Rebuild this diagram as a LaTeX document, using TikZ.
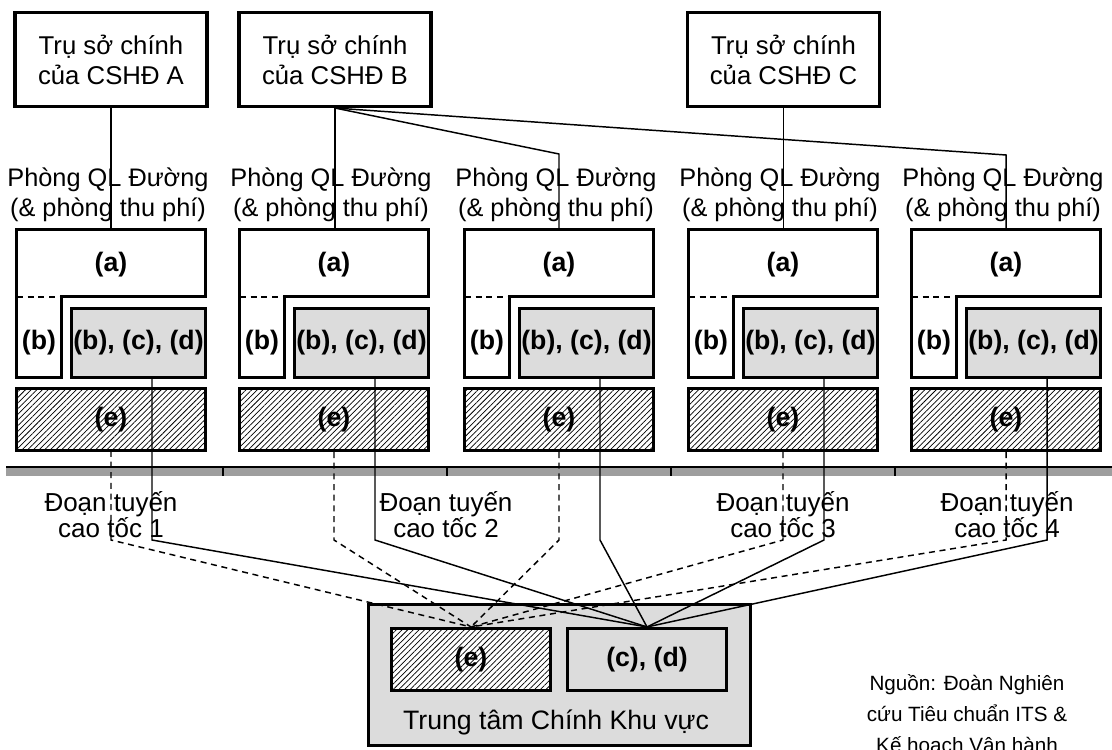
\documentclass[tikz,border=0pt]{standalone}
\usepackage{fontspec}
\setmainfont{Liberation Sans}
\usetikzlibrary{patterns.meta}
\definecolor{lgray}{RGB}{220,220,220}
\definecolor{bargray}{RGB}{158,158,158}
\begin{document}
\begin{tikzpicture}[x=0.75pt,y=-0.75pt,
  font=\fontsize{19.3}{22.5}\selectfont,
  thickborder/.style={draw=black,line width=2.3pt},
  boldlbl/.style={font=\fontsize{20}{22}\selectfont\bfseries},
  hqbox/.style={thickborder,fill=white,minimum width=144pt,minimum height=70.5pt,inner sep=0pt,align=center},
  graybox/.style={thickborder,fill=lgray,minimum width=100.5pt,minimum height=51.75pt,inner sep=0pt,boldlbl},
  hatchbox/.style={thickborder,preaction={fill=white},pattern={Lines[angle=45,distance=3pt,line width=0.55pt]},minimum width=141.75pt,minimum height=46.5pt,inner sep=0pt,boldlbl},
  officelbl/.style={font=\fontsize{19}{22.5}\selectfont,align=center,inner sep=0pt},
  roadlbl/.style={font=\fontsize{19.5}{19.5}\selectfont,align=center,inner sep=0pt},
  conn/.style={line width=1.1pt},
  dconn/.style={conn,dash pattern=on 4.5pt off 3.5pt},
]
\useasboundingbox (0,0) rectangle (1112,749);

% head offices
\node[hqbox] (hqA) at (111,59.5) {Trụ sở chính\\của CSHĐ A};
\node[hqbox] (hqB) at (335,59.5) {Trụ sở chính\\của CSHĐ B};
\node[hqbox] (hqC) at (783.5,59.5) {Trụ sở chính\\của CSHĐ C};

% highway bar
\fill[bargray] (6,468) rectangle (1112,476);
\draw[line width=1.3pt] (6,467) -- (1112,467);
\foreach \t in {223,447,671,895} \draw[line width=0.9pt] (\t,467) -- (\t,476);

% road segment labels
\node[roadlbl] (r1) at (111,515) {Đoạn tuyến\\cao tốc 1};
\node[roadlbl] (r2) at (446,515) {Đoạn tuyến\\cao tốc 2};
\node[roadlbl] (r3) at (783,515) {Đoạn tuyến\\cao tốc 3};
\node[roadlbl] (r4) at (1007,515) {Đoạn tuyến\\cao tốc 4};

% offices
\foreach \i/\L in {1/15,2/238,3/463,4/687,5/910}{
  \node[officelbl] (lbl\i) at (\L+93,195) {Phòng QL Đường\\(\& phòng thu phí)};
  \draw[thickborder,fill=white,line join=miter] (\L+1.5,229.5) -- (\L+190.5,229.5) -- (\L+190.5,296.5) -- (\L+46.5,296.5) -- (\L+46.5,377.5) -- (\L+1.5,377.5) -- cycle;
  \draw[line width=1pt,dash pattern=on 4.5pt off 3.5pt] (\L+2,297) -- (\L+46,297);
  \node[boldlbl] (a\i) at (\L+96,265) {(a)};
  \node[boldlbl] (b\i) at (\L+24,343) {(b)};
  \node[graybox] (g\i) at (\L+123.5,343) {(b), (c), (d)};
  \node[hatchbox] (e\i) at (\L+96,419.5) {(e)};
  \coordinate (top\i) at (\L+96,228);
  \coordinate (kd\i) at (\L+96,540);
  \coordinate (ks\i) at (\L+137,540);
}

% regional center
\node[thickborder,fill=lgray,minimum width=286.5pt,minimum height=105.75pt] (rc) at (559.5,675) {};
\node[hatchbox,minimum width=119.25pt] (ce) at (471,659.5) {(e)};
\node[graybox,minimum width=119.25pt,minimum height=46.5pt] (ccd) at (647,659.5) {(c), (d)};
\node[font=\fontsize{20}{22}\selectfont] (rct) at (556,722) {Trung tâm Chính Khu vực};

% head office connectors
\coordinate (bend3) at (559,154);
\coordinate (bend5) at (1006,155);
\draw[conn] (hqA.south) -- (hqA.south |- top1);
\draw[conn] (hqB.south) -- (hqB.south |- top2);
\draw[conn] (hqC.south) -- (hqC.south |- top4);
\draw[conn] (hqB.south) -- (bend3) -- (top3);
\draw[conn] (hqB.south) -- (bend5) -- (top5);

% connectors to regional center
\foreach \i in {1,...,5}{
  \draw[dconn] (e\i.south -| kd\i) -- (kd\i) -- (ce.north);
  \draw[conn] (g\i.south -| ks\i) -- (ks\i) -- (ccd.north);
}

% source
\node[font=\fontsize{15.5}{23}\selectfont,align=center] (src) at (967,715) {Nguồn: Đoàn Nghiên\\cứu Tiêu chuẩn ITS \&\\Kế hoạch Vận hành};
\end{tikzpicture}
\end{document}
